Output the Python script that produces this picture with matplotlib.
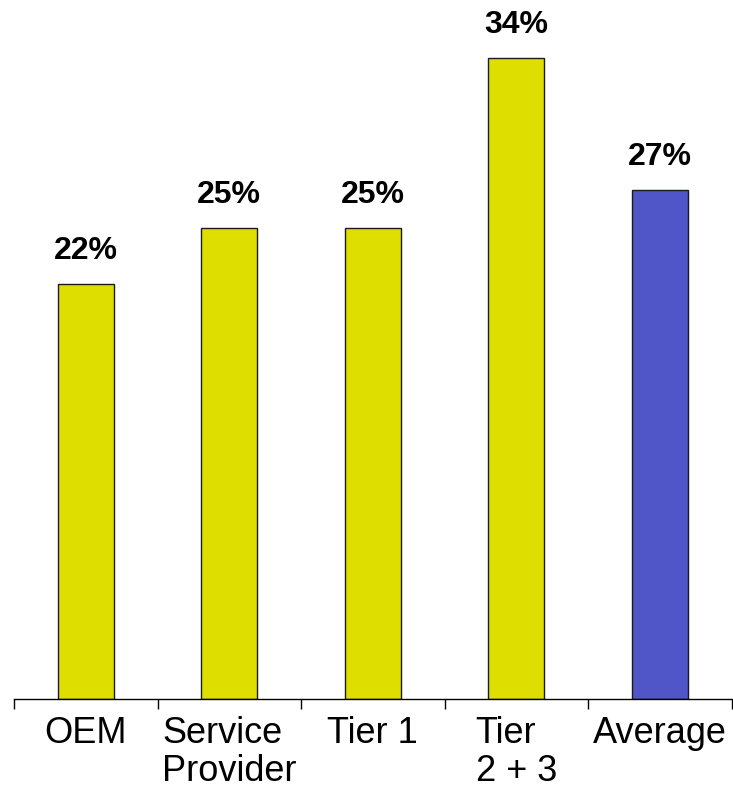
import matplotlib.pyplot as plt
import matplotlib

matplotlib.rc('font', family=['Liberation Sans', 'DejaVu Sans'])

categories = ["OEM", "Service\nProvider", "Tier 1", "Tier\n2 + 3", "Average"]
values = [22, 25, 25, 34, 27]
colors = ["#DEDE00", "#DEDE00", "#DEDE00", "#DEDE00", "#5055C8"]
value_labels = ["22%", "25%", "25%", "34%", "27%"]

fig = plt.figure(figsize=(7.33, 7.92), dpi=100)
ax = fig.add_axes([14 / 733, 93 / 792, 717.5 / 733, 699 / 792])

x = range(len(categories))
bars = ax.bar(x, values, width=0.39, color=colors, edgecolor="#1a1a1a", linewidth=1)

for b, lab in zip(bars, value_labels):
    ax.annotate(lab, (b.get_x() + b.get_width() / 2, b.get_height()),
                xytext=(0, 13), textcoords="offset points",
                ha="center", va="bottom", fontsize=23, fontweight="bold")

ax.set_xlim(-0.5, len(categories) - 0.5)
ax.set_ylim(0, 37.08)

# ticks at category boundaries, labels at the centres
ax.set_xticks([i - 0.5 for i in range(len(categories) + 1)])
ax.set_xticklabels([])
ax.tick_params(axis="x", which="major", length=7, width=1, color="black", direction="out")
ax.set_xticks(list(x), minor=True)
ax.set_xticklabels(categories, minor=True, fontsize=26, multialignment="left", linespacing=1.12)
ax.tick_params(axis="x", which="minor", length=0, pad=12)

ax.set_yticks([])
for s in ["left", "right", "top"]:
    ax.spines[s].set_visible(False)
ax.spines["bottom"].set_linewidth(1)

fig.savefig("out.png", dpi=100)
